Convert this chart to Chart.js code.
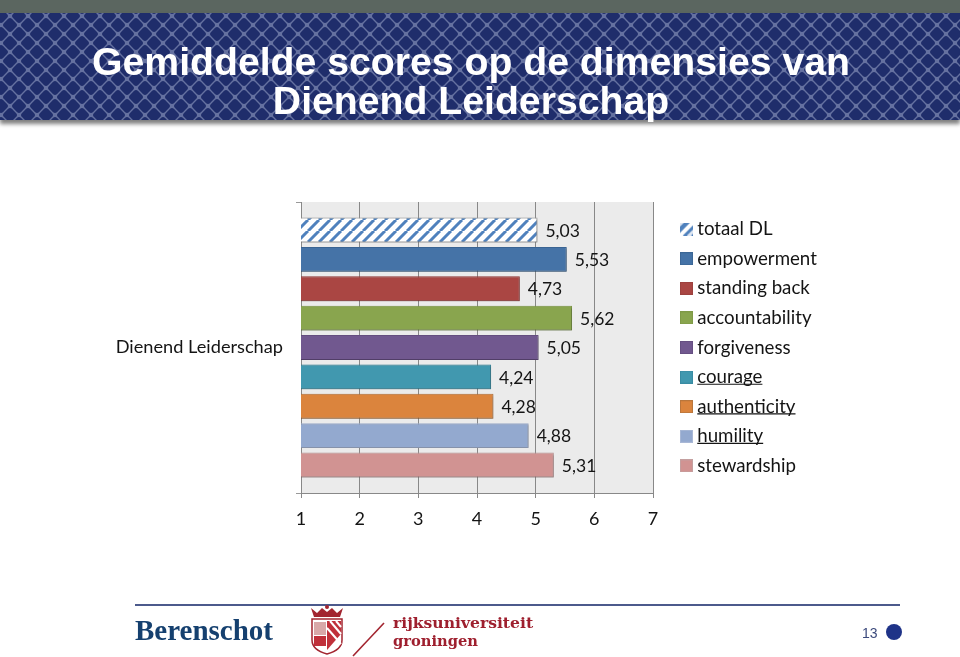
<!DOCTYPE html>
<html><head><meta charset="utf-8">
<script src="https://cdn.jsdelivr.net/npm/chart.js@4"></script>
<style>
html,body{margin:0;padding:0;background:#fff;width:960px;height:657px;overflow:hidden}
#top{position:absolute;left:0;top:0;width:960px;height:13px;background:#5b6660}
#banner{position:absolute;left:0;top:13px;width:960px;height:107px;box-shadow:0 4px 4px rgba(0,0,0,.5)}
#c{position:absolute;left:0;top:0}
#rule{position:absolute;left:135px;top:604px;width:765px;height:2px;background:#4c5a8c}
.f{position:absolute;white-space:nowrap}
#ber{left:135px;top:613px;font:bold 29px/34px "Liberation Serif";color:#15406f}
#rug1{left:393px;top:614px;font:bold 15.6px/17px "DejaVu Serif";color:#9e1f2e}
#rug2{left:393px;top:632px;font:bold 14.7px/17px "DejaVu Serif";color:#9e1f2e}
#num{left:862px;top:625px;font:14px/16px "Liberation Sans";color:#3c4a7c}
#dot{position:absolute;left:886px;top:624px;width:16px;height:16px;border-radius:50%;background:#1f3388}
#art{position:absolute;left:300px;top:604px}
</style></head><body>
<div id="top"></div>
<svg id="banner" width="960" height="107" xmlns="http://www.w3.org/2000/svg">
<defs><pattern id="p" width="18" height="18" patternUnits="userSpaceOnUse" x="1" y="3">
<rect width="18" height="18" fill="#6571a0"/>
<g fill="#1f2d6b">
<rect x="-5.7" y="-5.7" width="11.4" height="11.4" rx="3" transform="translate(0 0) rotate(45)"/>
<rect x="-5.7" y="-5.7" width="11.4" height="11.4" rx="3" transform="translate(18 0) rotate(45)"/>
<rect x="-5.7" y="-5.7" width="11.4" height="11.4" rx="3" transform="translate(0 18) rotate(45)"/>
<rect x="-5.7" y="-5.7" width="11.4" height="11.4" rx="3" transform="translate(18 18) rotate(45)"/>
<rect x="-5.7" y="-5.7" width="11.4" height="11.4" rx="3" transform="translate(9 9) rotate(45)"/>
</g></pattern></defs>
<rect width="960" height="107" fill="url(#p)"/>
</svg>
<canvas id="c" width="960" height="657"></canvas>
<div id="rule"></div>
<div class="f" id="ber">Berenschot</div>
<svg id="art" width="90" height="53" xmlns="http://www.w3.org/2000/svg">
<path d="M12 15 L42 15 L42 36 Q42 46 27 50 Q12 46 12 36 Z" fill="#fff" stroke="#a2242f" stroke-width="1.5"/>
<path d="M27 17 L41 17 L41 30 L27 46 Z" fill="#c0303a"/>
<path d="M30 17 L41 30 M36 17 L41 23 M27 24 L41 40" stroke="#fff" stroke-width="2"/>
<rect x="14" y="18" width="12" height="13" fill="#d8a8a8"/>
<rect x="14" y="32" width="12" height="10" fill="#c0303a"/>
<path d="M11 4 L17 9 L22 4 L27 8 L32 4 L37 9 L43 4 L40 13 L14 13 Z" fill="#a2242f"/>
<circle cx="27" cy="3" r="2" fill="#a2242f"/>
<line x1="53" y1="52" x2="84" y2="19" stroke="#a2242f" stroke-width="1.6"/>
</svg>
<div class="f" id="rug1">rijksuniversiteit</div>
<div class="f" id="rug2">groningen</div>
<div class="f" id="num">13</div>
<div id="dot"></div>
<script>
const categories = ['Dienend Leiderschap'];
const seriesNames = ['totaal DL','empowerment','standing back','accountability','forgiveness','courage','authenticity','humility','stewardship'];
const seriesValues = [5.03,5.53,4.73,5.62,5.05,4.24,4.28,4.88,5.31];
const seriesColors = ['#4f81bd','#4573a7','#aa4643','#89a54e','#71588f','#4198af','#db843d','#93a9cf','#d19392'];
const seriesBorders = ['#a3a3a3','#3c6796','#9c413e','#7f9a47','#664f82','#398ca3','#b9763c','#a9b8d6','#c4a0a0'];
const underlined = ['courage','authenticity','humility'];
const titleLines = ['Gemiddelde scores op de dimensies van','Dienend Leiderschap'];
const axisMin = 1, axisMax = 7, axisStep = 1;

const bodyFont = 'Lato';
const textColor = '#141414';
const legendFontSize = 18.7;

function hatch(){
  const s = 11, c = document.createElement('canvas');
  c.width = s; c.height = s;
  const x = c.getContext('2d');
  x.fillStyle = '#fff'; x.fillRect(0,0,s,s);
  x.strokeStyle = seriesColors[0]; x.lineWidth = 3;
  x.beginPath();
  for (let i=-s;i<=2*s;i+=s){ x.moveTo(i,s); x.lineTo(i+s,0); }
  x.stroke();
  return x.createPattern(c,'repeat');
}
const hatchFill = hatch();

function swatch(i){
  const c = document.createElement('canvas');
  c.width = 13; c.height = 13;
  const x = c.getContext('2d');
  if (i===0){
    x.fillStyle = seriesColors[0]; x.fillRect(0,0,13,13);
    x.strokeStyle = '#fff'; x.lineWidth = 4;
    x.beginPath(); x.moveTo(0,13); x.lineTo(13,0); x.stroke();
    x.beginPath(); x.moveTo(-4,6); x.lineTo(6,-4); x.moveTo(6,16); x.lineTo(16,6); x.lineWidth=3; x.strokeStyle='#dfe7f2'; x.stroke();
  } else {
    x.fillStyle = seriesColors[i]; x.fillRect(0,0,13,13);
    x.strokeStyle = seriesBorders[i]; x.lineWidth = 1; x.strokeRect(.5,.5,12,12);
  }
  return c;
}
const swatches = seriesNames.map((_,i)=>swatch(i));

const plotBg = {
  id:'plotBg',
  beforeDraw(chart){
    const a = chart.chartArea, x = chart.ctx;
    x.save(); x.fillStyle = '#ebebeb'; x.fillRect(a.left,a.top,a.right-a.left,a.bottom-a.top); x.restore();
  }
};
const barShadow = {
  id:'barShadow',
  beforeDatasetsDraw(chart){
    const x = chart.ctx; x.save();
    x.shadowColor='rgba(0,0,0,.3)'; x.shadowBlur=2; x.shadowOffsetX=1; x.shadowOffsetY=1;
  },
  afterDatasetsDraw(chart){ chart.ctx.restore(); }
};
const valueLabels = {
  id:'valueLabels',
  afterDatasetsDraw(chart){
    const x = chart.ctx; x.save();
    x.shadowColor='transparent';
    x.font = '17.5px '+bodyFont; x.fillStyle = textColor; x.textBaseline='middle'; x.textAlign='left';
    chart.data.datasets.forEach((d,i)=>{
      const el = chart.getDatasetMeta(i).data[0];
      x.fillText(d.data[0].toFixed(2).replace('.',','), el.x+8, el.y+1);
    });
    x.restore();
  }
};
const LEGEND_DX = 21, LEGEND_DY = 81, LEGEND_EXTRA_W = 60, TITLE_CENTER = 471;
const legendPlace = {
  id:'legendPlace',
  afterLayout(chart){
    const l = chart.legend, t = chart.titleBlock;
    l.left += LEGEND_DX; l.right += LEGEND_DX + LEGEND_EXTRA_W;
    l.top += LEGEND_DY; l.bottom += LEGEND_DY;
    t.right = t.left + 2*(TITLE_CENTER - t.left);
  },
  afterDraw(chart){
    const l = chart.legend, x = chart.ctx;
    x.save();
    x.font = legendFontSize+'px '+bodyFont; x.strokeStyle = textColor; x.lineWidth = 1.2;
    l.legendItems.forEach((it,i)=>{
      if (!underlined.includes(it.text)) return;
      const b = l.legendHitBoxes[i], tx = b.left + 3 + legendFontSize/2, w = x.measureText(it.text).width, y = b.top + 16.5;
      x.beginPath(); x.moveTo(tx,y); x.lineTo(tx+w,y); x.stroke();
    });
    x.restore();
  }
};

new Chart(document.getElementById('c'),{
  type:'bar',
  data:{
    labels:categories,
    datasets:seriesNames.map((n,i)=>({
      label:n,
      data:[seriesValues[i]],
      backgroundColor:i===0?hatchFill:seriesColors[i],
      borderColor:seriesBorders[i],
      borderWidth:1,
      borderSkipped:false,
      categoryPercentage:.909,
      barPercentage:.847
    }))
  },
  options:{
    indexAxis:'y',
    responsive:false,
    animation:false,
    layout:{padding:{left:0,right:177,top:0,bottom:124}},
    scales:{
      x:{
        min:axisMin,max:axisMax,
        ticks:{stepSize:axisStep,color:textColor,font:{family:bodyFont,size:18},padding:10,maxRotation:0},
        grid:{color:'#888',tickLength:5,tickColor:'#888',lineWidth:1},
        border:{color:'#888'},
        afterFit(s){ s.height = 40; }
      },
      y:{
        ticks:{color:textColor,font:{family:bodyFont,size:18.2},padding:13},
        grid:{display:true,drawOnChartArea:false,offset:true,tickLength:5,tickColor:'#999',color:'#999'},
        border:{color:'#888'},
        afterFit(s){ s.width = 301; }
      }
    },
    plugins:{
      title:{
        display:true,text:titleLines,color:'#fff',
        font:{family:'"Liberation Sans"',size:39.2,weight:'bold',lineHeight:39/39.2},
        padding:{top:45,bottom:79}
      },
      legend:{
        display:true,position:'right',maxWidth:130,
        labels:{
          color:textColor,font:{family:bodyFont,size:legendFontSize,lineHeight:1.2},
          padding:29.6-legendFontSize,boxHeight:13,usePointStyle:true,pointStyleWidth:3,
          generateLabels(chart){
            return Chart.defaults.plugins.legend.labels.generateLabels(chart).map((it,i)=>({...it,pointStyle:swatches[i]}));
          }
        }
      },
      tooltip:{enabled:false}
    }
  },
  plugins:[plotBg,barShadow,valueLabels,legendPlace]
});
</script>
</body></html>
